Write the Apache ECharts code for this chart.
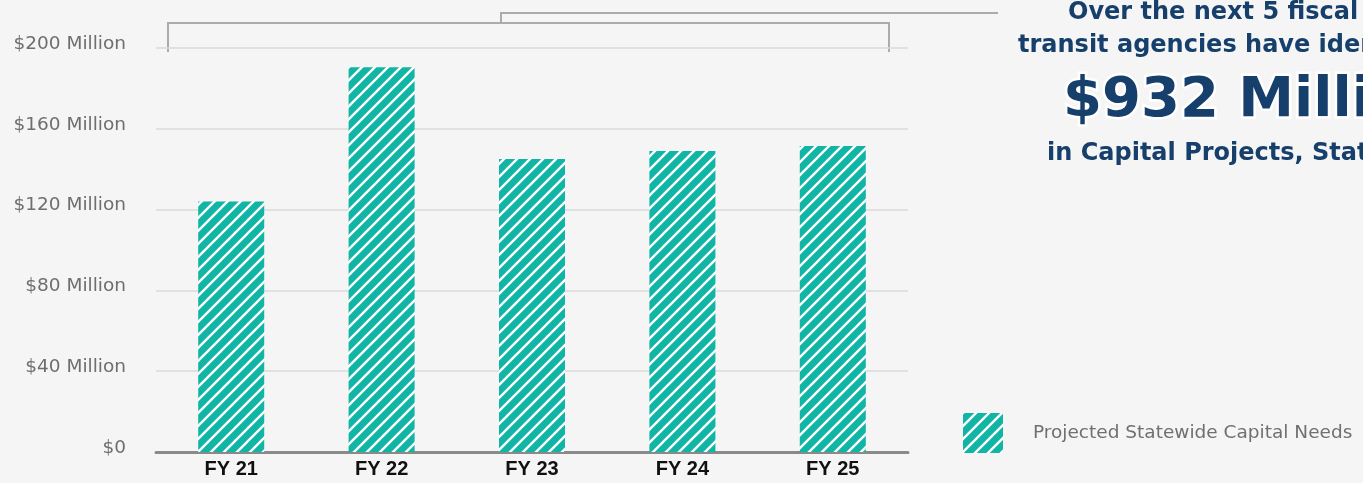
<!DOCTYPE html>
<html>
<head>
<meta charset="utf-8">
<script src="https://cdn.jsdelivr.net/npm/echarts@6/dist/echarts.min.js"></script>
<style>
html,body{margin:0;padding:0;background:#f4f5f4;}
#chart{width:1363px;height:483px;}
</style>
</head>
<body>
<div id="chart"></div>
<script>
var categories = ['FY 21', 'FY 22', 'FY 23', 'FY 24', 'FY 25'];
var capitalNeeds = [124, 190.5, 145, 149, 151.5];
var seriesName = 'Projected Statewide Capital Needs';
var yTicks = [0, 40, 80, 120, 160, 200];
var yTickLabels = ['$0', '$40 Million', '$80 Million', '$120 Million', '$160 Million', '$200 Million'];
var headline = ['Over the next 5 fiscal years,', 'transit agencies have identified', '$932 Million', 'in Capital Projects, Statewide'];

function makeHatch() {
  var n = 13;
  var c = document.createElement('canvas');
  c.width = n; c.height = n;
  var ctx = c.getContext('2d');
  ctx.fillStyle = '#10b5a5';
  ctx.fillRect(0, 0, n, n);
  ctx.strokeStyle = '#ffffff';
  ctx.lineWidth = 2.4;
  ctx.beginPath();
  ctx.moveTo(-2, n + 2); ctx.lineTo(n + 2, -2);
  ctx.moveTo(-2, 2); ctx.lineTo(2, -2);
  ctx.moveTo(n - 2, n + 2); ctx.lineTo(n + 2, n - 2);
  ctx.stroke();
  return c;
}
var hatch = { image: makeHatch(), repeat: 'repeat' };

var chart = echarts.init(document.getElementById('chart'), null, { renderer: 'canvas' });
var navy = '#173f6b';
var option = {
  backgroundColor: '#f4f5f4',
  animation: false,
  grid: { left: 156, right: 455, top: 48, bottom: 31, containLabel: false },
  legend: {
    data: [seriesName],
    left: 958, top: 408,
    itemWidth: 40, itemHeight: 40,
    icon: 'rect',
    textStyle: { fontFamily: 'DejaVu Sans', fontSize: 18.5, color: '#707070', padding: [0, 0, 0, 25] }
  },
  xAxis: {
    type: 'category',
    data: categories,
    axisTick: { show: false },
    axisLine: { lineStyle: { color: '#8a8a8a', width: 3 } },
    axisLabel: { fontFamily: 'Liberation Sans', fontWeight: 'bold', fontSize: 20, color: '#111111', margin: 7 }
  },
  yAxis: {
    type: 'value',
    min: 0, max: 200, interval: 40,
    axisLine: { show: false },
    axisTick: { show: false },
    splitLine: { lineStyle: { color: '#dadada', width: 1.5 } },
    axisLabel: {
      fontFamily: 'DejaVu Sans', fontSize: 18.5, color: '#6e6e6e', margin: 30,
      verticalAlign: 'bottom', lineHeight: 8,
      formatter: function (v) { var i = yTicks.indexOf(v); return i >= 0 ? yTickLabels[i] : ''; }
    }
  },
  series: [{
    name: seriesName,
    type: 'bar',
    data: capitalNeeds,
    barWidth: 66,
    itemStyle: { color: hatch }
  }],
  graphic: [
    { type: 'polyline', shape: { points: [[168, 52], [168, 23], [889, 23], [889, 52]] }, style: { stroke: '#ababab', lineWidth: 2, fill: null } },
    { type: 'polyline', shape: { points: [[501, 23], [501, 13], [998, 13]] }, style: { stroke: '#ababab', lineWidth: 2, fill: null } },
    { type: 'text', x: 1068, y: 13, style: { text: headline[0], fontFamily: 'DejaVu Sans', fontWeight: 'bold', fontSize: 24, fill: navy, verticalAlign: 'middle', align: 'left' } },
    { type: 'text', x: 1018, y: 46, style: { text: headline[1], fontFamily: 'DejaVu Sans', fontWeight: 'bold', fontSize: 24, fill: navy, verticalAlign: 'middle', align: 'left' } },
    { type: 'text', x: 1063, y: 101, style: { text: headline[2], fontFamily: 'DejaVu Sans', fontWeight: 'bold', fontSize: 56, fill: navy, stroke: '#ffffff', lineWidth: 5, verticalAlign: 'middle', align: 'left' } },
    { type: 'text', x: 1047, y: 154, style: { text: headline[3], fontFamily: 'DejaVu Sans', fontWeight: 'bold', fontSize: 24, fill: navy, verticalAlign: 'middle', align: 'left' } }
  ]
};
chart.setOption(option);
</script>
</body>
</html>
